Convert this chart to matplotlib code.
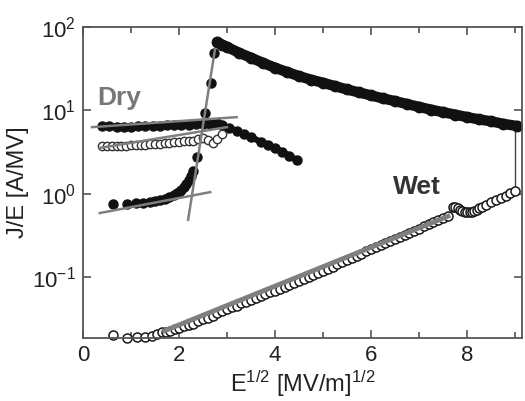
import matplotlib
matplotlib.use('Agg')
import matplotlib.pyplot as plt
from matplotlib.ticker import LogLocator, LogFormatterMathtext, MultipleLocator, NullLocator

plt.rcParams['font.family'] = ['Liberation Sans', 'DejaVu Sans']
plt.rcParams['mathtext.fontset'] = 'custom'
plt.rcParams['mathtext.rm'] = 'Liberation Sans'
plt.rcParams['mathtext.it'] = 'Liberation Sans:italic'
plt.rcParams['axes.unicode_minus'] = False

## DATA
## ==========================

# dry, after breakdown (large filled dots)
dry_hi_x = [2.8, 2.9, 3.0, 3.25, 3.5, 3.75, 4.0, 4.25, 4.5, 4.75, 5.0, 5.25, 5.5, 5.75,
            6.0, 6.25, 6.5, 6.75, 7.0, 7.25, 7.5, 7.75, 8.0, 8.25, 8.5, 8.75, 9.04]
dry_hi_y = [66, 61, 57.5, 49, 42.7, 37, 32.4, 28.8, 25.7, 23.3, 21.4, 19.5, 17.8, 16.4,
            15.1, 13.9, 12.9, 11.9, 11.0, 10.2, 9.5, 8.9, 8.3, 7.8, 7.4, 6.9, 6.5]

# dry, filled, upper branch
dry_up_x = [0.4, 0.55, 0.7, 0.85, 1.0, 1.15, 1.3, 1.45, 1.6, 1.75, 1.9, 2.05, 2.2, 2.35,
            2.5, 2.65, 2.8, 2.9, 3.05, 3.2, 3.35, 3.5, 3.7, 3.85, 4.0, 4.15, 4.3, 4.45]
dry_up_y = [6.5, 6.5, 6.4, 6.4, 6.4, 6.45, 6.5, 6.5, 6.55, 6.6, 6.6, 6.7, 6.75, 6.8,
            6.9, 6.95, 7.0, 6.6, 6.1, 5.7, 5.2, 4.8, 4.2, 3.9, 3.5, 3.2, 2.85, 2.55]

# dry, open circles
dry_open_x = [0.4, 0.5, 0.6, 0.7, 0.8, 0.9, 1.0, 1.1, 1.2, 1.3, 1.4, 1.5, 1.6, 1.7, 1.8,
              1.9, 2.0, 2.1, 2.2, 2.3, 2.4, 2.5, 2.6, 2.7, 2.8, 2.9]
dry_open_y = [3.7, 3.7, 3.7, 3.75, 3.75, 3.75, 3.8, 3.82, 3.85, 3.9, 3.92, 3.95, 4.0, 4.02,
              4.05, 4.15, 4.2, 4.25, 4.3, 4.35, 4.5, 4.7, 4.4, 4.1, 4.6, 5.2]

# dry, filled, lower branch (breakdown run)
dry_lo_x = [0.63, 0.91, 1.1, 1.25, 1.4, 1.5, 1.6, 1.7, 1.8, 1.9, 1.95, 2.0, 2.05, 2.1,
            2.15, 2.2, 2.25, 2.3, 2.37, 2.54, 2.67, 2.73]
dry_lo_y = [0.76, 0.76, 0.77, 0.78, 0.8, 0.82, 0.85, 0.88, 0.92, 0.98, 1.02, 1.06, 1.12, 1.2,
            1.3, 1.45, 1.65, 1.9, 2.8, 9.2, 21, 49]

# gray fit lines (end points)
fit_up_x = [0.19, 3.2]
fit_up_y = [6.3, 8.3]
fit_open_x = [0.35, 3.0]
fit_open_y = [3.55, 6.3]
fit_steep_x = [2.19, 2.75]
fit_steep_y = [0.49, 54]
fit_lo_x = [0.35, 2.65]
fit_lo_y = [0.59, 1.05]
fit_wet_x = [1.7, 7.6]
fit_wet_y = [0.023, 0.54]

# wet, open circles
wet_x = [0.63, 0.91, 1.12, 1.30, 1.43, 1.54, 1.64, 1.73, 1.82, 1.91,
         2.0, 2.1, 2.2, 2.3, 2.4, 2.5, 2.6, 2.7, 2.8, 2.9,
         3.0, 3.1, 3.2, 3.3, 3.4, 3.5, 3.6, 3.7, 3.8, 3.9,
         4.0, 4.1, 4.2, 4.3, 4.4, 4.5, 4.6, 4.7, 4.8, 4.9,
         5.0, 5.1, 5.2, 5.3, 5.4, 5.5, 5.6, 5.7, 5.8, 5.9,
         6.0, 6.1, 6.2, 6.3, 6.4, 6.5, 6.6, 6.7, 6.8, 6.9,
         7.0, 7.1, 7.2, 7.3, 7.4, 7.5, 7.6, 7.7, 7.75, 7.8, 7.85, 7.9, 7.95,
         8.0, 8.05, 8.1, 8.15, 8.2, 8.25, 8.3, 8.4, 8.5, 8.6, 8.7, 8.8, 8.9, 9.0]
wet_y = [0.0205, 0.0190, 0.0192, 0.0196, 0.0200, 0.0210, 0.0220, 0.0222, 0.0230, 0.0240,
         0.025, 0.026, 0.027, 0.028, 0.030, 0.032, 0.033, 0.035, 0.037, 0.040,
         0.042, 0.044, 0.046, 0.049, 0.051, 0.054, 0.057, 0.060, 0.063, 0.066,
         0.069, 0.073, 0.077, 0.082, 0.086, 0.091, 0.096, 0.101, 0.107, 0.113,
         0.120, 0.127, 0.135, 0.143, 0.151, 0.160, 0.170, 0.181, 0.193, 0.205,
         0.218, 0.230, 0.243, 0.257, 0.272, 0.288, 0.305, 0.323, 0.342, 0.362,
         0.385, 0.408, 0.432, 0.457, 0.484, 0.512, 0.545, 0.70, 0.69, 0.68, 0.65, 0.63, 0.61,
         0.60, 0.60, 0.61, 0.63, 0.65, 0.67, 0.69, 0.74, 0.80, 0.85, 0.90, 0.95, 1.02, 1.09]

# thin connector at the end of the sweep
link_x = [9.0, 9.0]
link_y = [1.09, 6.5]

## PLOT
## ====

fig = plt.figure(figsize=(5.25, 4.01), dpi=100)
ax = fig.add_axes([0.158, 0.157, 0.836, 0.776])
ax.set_yscale('log')

gray = '#7f7f7f'
blk = '#111111'

ax.plot(link_x, link_y, color='#444444', lw=1.0, zorder=1)

# wet
ax.plot(wet_x, wet_y, 'o', ms=6.5, mfc='white', mec='#1a1a1a', mew=1.1, clip_on=False, zorder=2)
ax.plot(fit_wet_x, fit_wet_y, color=gray, lw=3.5, zorder=3)

# dry
ax.plot(dry_hi_x, dry_hi_y, '-o', color=blk, lw=7.5, ms=7.5, solid_capstyle='round', zorder=2)
ax.plot(dry_up_x, dry_up_y, '-o', color=blk, lw=4.5, ms=6.5, solid_capstyle='round', zorder=2)
ax.plot(dry_open_x, dry_open_y, 'o', ms=6, mfc='white', mec='#333333', mew=1.0, zorder=2)
ax.plot(dry_lo_x, dry_lo_y, 'o', color=blk, ms=6.5, zorder=2)

for fx, fy in [(fit_up_x, fit_up_y), (fit_open_x, fit_open_y),
               (fit_steep_x, fit_steep_y), (fit_lo_x, fit_lo_y)]:
    ax.plot(fx, fy, color=gray, lw=1.8, zorder=4)

ax.text(0.29, 11.5, 'Dry', fontsize=19, fontweight='bold', color='#777777', va='baseline')
ax.text(6.46, 1.0, 'Wet', fontsize=19, fontweight='bold', color='#333333', va='baseline')

ax.set_xlim(0, 9.14)
ax.set_ylim(0.0188, 100)

ax.xaxis.set_major_locator(MultipleLocator(2))
ax.xaxis.set_minor_locator(MultipleLocator(1))
ax.yaxis.set_major_locator(LogLocator(base=10, numticks=10))
ax.yaxis.set_major_formatter(LogFormatterMathtext())
ax.yaxis.set_minor_locator(NullLocator())

ax.tick_params(which='both', direction='in', top=True, right=True, color='#555555',
               width=1.2, labelsize=16, labelcolor='#222222', pad=5)
ax.tick_params(which='major', length=6)
ax.tick_params(which='minor', length=4)
for s in ax.spines.values():
    s.set_color('#555555')
    s.set_linewidth(1.3)

ax.set_xlabel('E$^{1/2}$ [MV/m]$^{1/2}$', fontsize=17, color='#222222', labelpad=2)
ax.set_ylabel('J/E [A/MV]', fontsize=17, color='#222222', labelpad=2)

plt.savefig('out.png', dpi=100)
